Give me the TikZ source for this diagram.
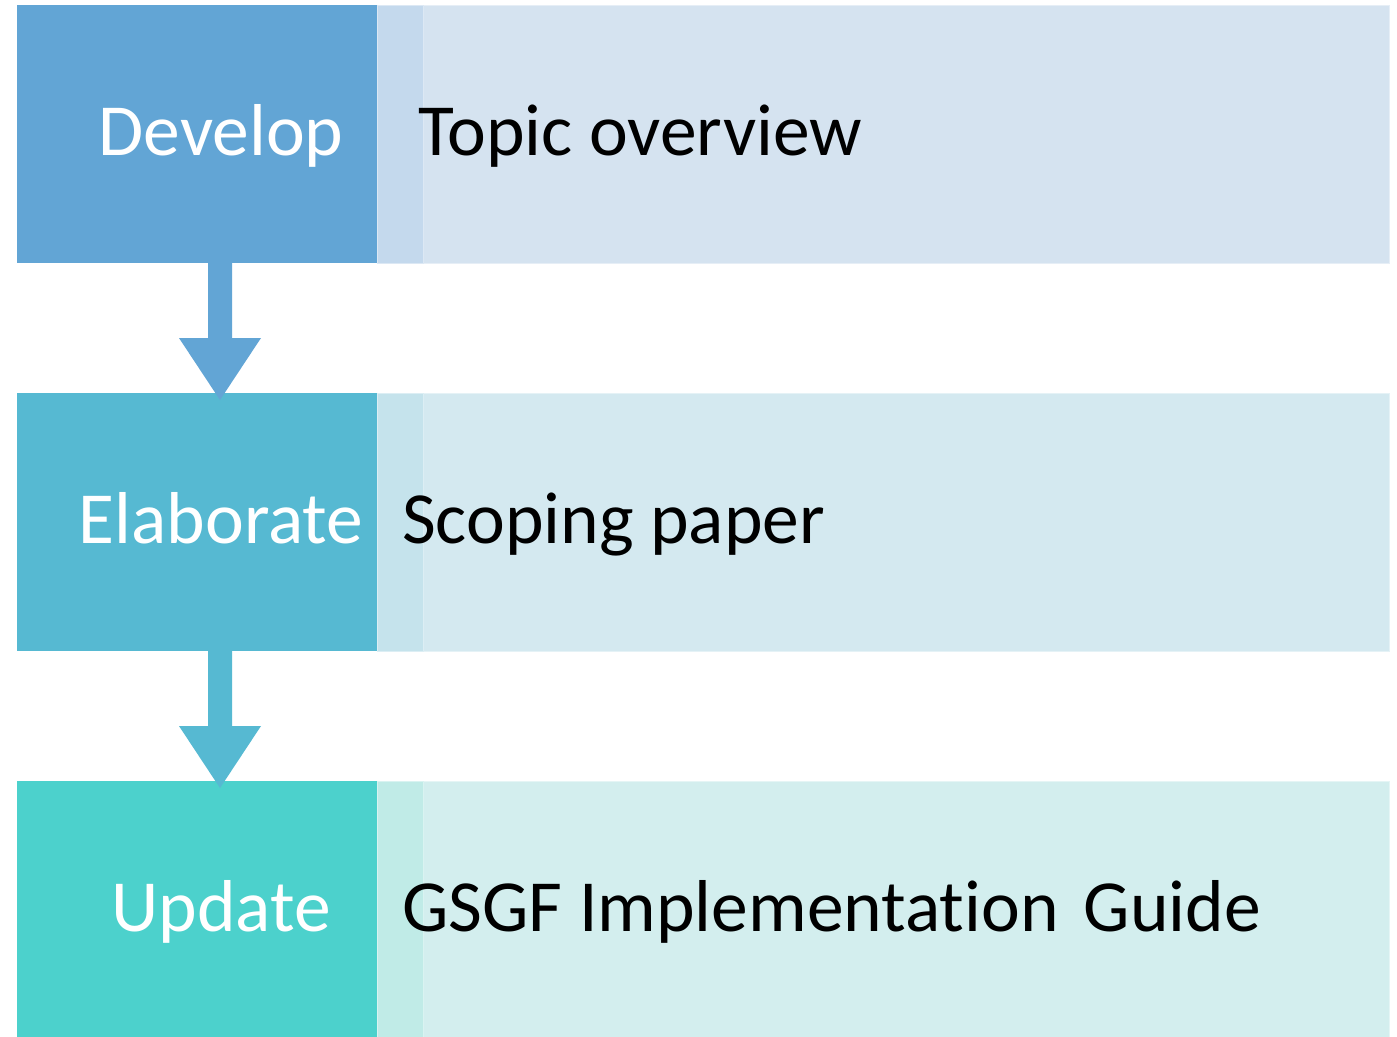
\documentclass[tikz,border=0pt]{standalone}
\usepackage{fontspec}
\setmainfont[Ligatures=NoCommon]{Carlito}
\usetikzlibrary{calc}
\definecolor{dA}{HTML}{62A5D5}
\definecolor{lA}{HTML}{D5E3F0}
\definecolor{sA}{HTML}{C4D9ED}
\definecolor{dB}{HTML}{56B9D2}
\definecolor{lB}{HTML}{D4E9F0}
\definecolor{sB}{HTML}{C5E3EC}
\definecolor{dC}{HTML}{4CD1CC}
\definecolor{lC}{HTML}{D3EEEE}
\definecolor{sC}{HTML}{C0EBE7}
\begin{document}
\begin{tikzpicture}[x=1pt,y=-1pt,
  darkbox/.style={minimum width=408pt, minimum height=258pt, inner sep=0pt, outer sep=0pt,
    text=white, font=\fontsize{73.5}{80}\selectfont, text height=42pt, text depth=0pt},
  lightbox/.style={minimum width=1012pt, minimum height=258pt, inner sep=0pt, outer sep=0pt},
  stripbox/.style={minimum width=46pt, minimum height=258pt, inner sep=0pt, outer sep=0pt},
  rtext/.style={anchor=base west, inner sep=0pt, text=black, font=\fontsize{73.5}{80}\selectfont},
  flowarrow/.style={line join=round}
]
\useasboundingbox (0,0) rectangle (1397,1036);
\fill[white] (0,0) rectangle (1397,1036);

% row 1
\node[darkbox, fill=dA] (d1) at (221,134) {Develop};
\node[lightbox, fill=lA, draw=lA!60!white, line width=1pt] (l1) at (883,134) {};
\node[stripbox, fill=sA, draw=sA!60!white, line width=1pt] (s1) at (400,134) {};
\node[rtext] (t1) at (418,155) {Topic overview};

% row 2
\node[darkbox, fill=dB] (d2) at (221,522) {Elaborate};
\node[lightbox, fill=lB, draw=lB!60!white, line width=1pt] (l2) at (883,522) {};
\node[stripbox, fill=sB, draw=sB!60!white, line width=1pt] (s2) at (400,522) {};
\node[rtext] (t2) at (402,543) {Scoping paper};

% row 3
\node[darkbox, fill=dC] (d3) at (221,910) {Update};
\node[lightbox, fill=lC, draw=lC!60!white, line width=1pt] (l3) at (883,910) {};
\node[stripbox, fill=sC, draw=sC!60!white, line width=1pt] (s3) at (400,910) {};
\node[rtext] (t3) at (402,931) {GSGF Implementation\hspace{0.12em} Guide};

% arrows
\fill[dA, flowarrow] ($(d1.south)+(-13,0)$) -- ($(d1.south)+(-13,75)$) -- ($(d1.south)+(-42,75)$)
  -- ($(d2.north)+(-1,7)$) -- ($(d1.south)+(40,75)$) -- ($(d1.south)+(11,75)$) -- ($(d1.south)+(11,0)$) -- cycle;
\fill[dB, flowarrow] ($(d2.south)+(-13,0)$) -- ($(d2.south)+(-13,75)$) -- ($(d2.south)+(-42,75)$)
  -- ($(d3.north)+(-1,7)$) -- ($(d2.south)+(40,75)$) -- ($(d2.south)+(11,75)$) -- ($(d2.south)+(11,0)$) -- cycle;
\end{tikzpicture}
\end{document}
